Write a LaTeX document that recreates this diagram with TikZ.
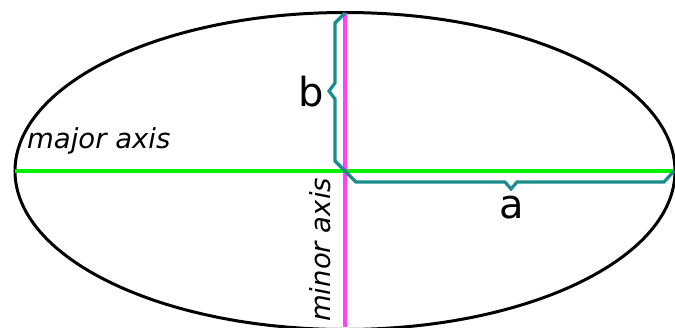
\documentclass[tikz,border=0pt]{standalone}
\usepackage{fontspec}
\setmainfont{DejaVu Sans}
\definecolor{axgreen}{HTML}{00F000}
\definecolor{axmag}{HTML}{FF40FF}
\definecolor{brteal}{HTML}{1A8C8C}
\tikzset{
  ell/.style={draw=black, line width=3pt},
  majorax/.style={draw=axgreen, line width=4.4pt},
  minorax/.style={draw=axmag, line width=3.4pt},
  brace/.style={draw=brteal, line width=3.2pt, line join=miter},
  axlabel/.style={font=\fontsize{27.5}{30}\selectfont\itshape, inner sep=0pt},
  letterlabel/.style={font=\fontsize{40}{44}\selectfont, inner sep=0pt}
}
\begin{document}
\begin{tikzpicture}[x=1pt,y=-1pt]
\useasboundingbox (0,0) rectangle (675,327);
\clip (0,0) rectangle (675,327);
\coordinate (C) at (345,171);
\coordinate (L) at (15,171);
\coordinate (R) at (674,171);
\coordinate (T) at (345,13);
\coordinate (B) at (345,327);
% ellipse
\draw[ell] (C) ellipse [x radius=330, y radius=158.5];
% axes
\draw[majorax] (L) -- (R);
\draw[minorax] (T) -- (B);
% brace b
\draw[brace] (T) -- (335,23) -- (335,83) -- (329,91) -- (335,99) -- (335,161) -- (C);
% brace a
\draw[brace] (C) -- (356,182) -- (505,182) -- (511,189) -- (517,182) -- (664,182) -- (R);
% labels
\node[letterlabel] (lb) at (311,92) {b};
\node[letterlabel] (la) at (512,208) {a};
\node[axlabel, anchor=south west] (lmaj) at (27,154) {major axis};
\node[axlabel, rotate=90, anchor=south west] (lmin) at (331,322) {minor axis};
\end{tikzpicture}
\end{document}
